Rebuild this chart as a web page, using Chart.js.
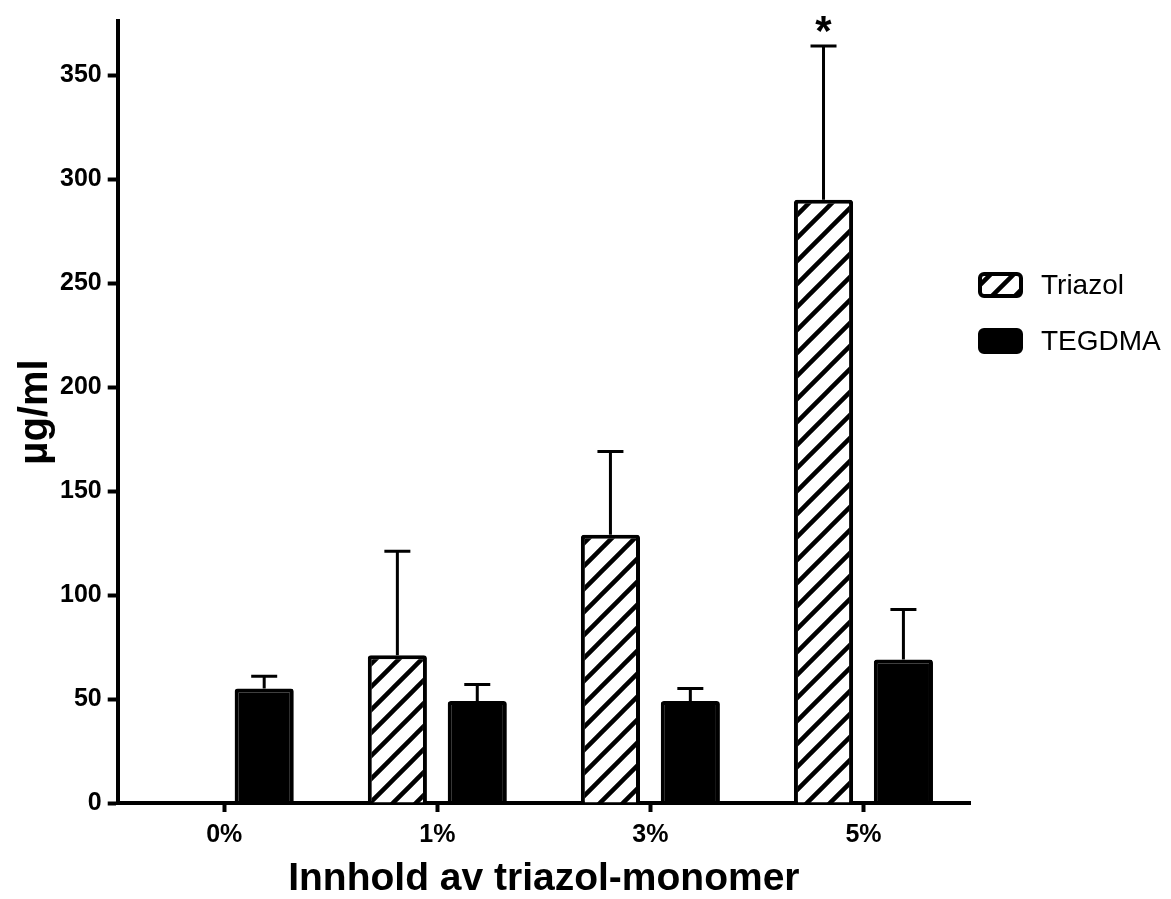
<!DOCTYPE html>
<html>
<head>
<meta charset="utf-8">
<script src="https://cdn.jsdelivr.net/npm/chart.js@4"></script>
<style>
  html, body { margin: 0; padding: 0; background: #fff; }
</style>
</head>
<body>
<canvas id="barChart" width="1171" height="899"></canvas>
<script>
// Release of monomer (µg/ml) by triazol content

const categories = ['0%', '1%', '3%', '5%'];
const triazol = [null, 71, 129, 290];
const triazolErr = [null, 50, 40, 74];
const tegdma = [55, 49, 49, 69];
const tegdmaErr = [6, 8, 6, 24];
const yTicks = [0, 50, 100, 150, 200, 250, 300, 350];
const seriesNames = ['Triazol', 'TEGDMA'];

function hatch() {
    const size = 23;
    const c = document.createElement('canvas');
    c.width = size; c.height = size;
    const g = c.getContext('2d');
    g.fillStyle = '#fff';
    g.fillRect(0, 0, size, size);
    g.strokeStyle = '#000';
    g.lineWidth = 4.5;
    g.beginPath();
    g.moveTo(-size, 2 * size); g.lineTo(2 * size, -size);
    g.moveTo(-size, size); g.lineTo(size, -size);
    g.moveTo(0, 2 * size); g.lineTo(2 * size, 0);
    g.stroke();
    return g.createPattern(c, 'repeat');
}
const stripes = hatch();

// error bars (upper only) + asterisk
const errorBars = {
    id: 'errorBars',
    afterDatasetsDraw(chart) {
        const ctx = chart.ctx;
        const y = chart.scales.y;
        const errs = [triazolErr, tegdmaErr];
        const vals = [triazol, tegdma];
        ctx.save();
        ctx.strokeStyle = '#000';
        ctx.lineWidth = 3;
        chart.data.datasets.forEach((ds, i) => {
            chart.getDatasetMeta(i).data.forEach((bar, j) => {
                if (vals[i][j] == null) return;
                const top = y.getPixelForValue(vals[i][j]);
                const end = y.getPixelForValue(vals[i][j] + errs[i][j]);
                ctx.beginPath();
                ctx.moveTo(bar.x, top);
                ctx.lineTo(bar.x, end);
                ctx.moveTo(bar.x - 13, end);
                ctx.lineTo(bar.x + 13, end);
                ctx.stroke();
                if (i === 0 && j === 3) {
                    ctx.fillStyle = '#000';
                    ctx.font = 'bold 42px "Liberation Sans", Arial, sans-serif';
                    ctx.textAlign = 'center';
                    ctx.textBaseline = 'bottom';
                    ctx.fillText('*', bar.x, end + 8);
                }
            });
        });
        ctx.restore();
    }
};

// legend at the right
const sideLegend = {
    id: 'sideLegend',
    afterDraw(chart) {
        const ctx = chart.ctx;
        ctx.save();
        chart.data.datasets.forEach((ds, i) => {
            const yc = 285 + i * 56;
            ctx.beginPath();
            ctx.roundRect(980, yc - 11, 41, 22, 4);
            ctx.fillStyle = ds.backgroundColor;
            ctx.fill();
            ctx.lineWidth = 4;
            ctx.strokeStyle = '#000';
            ctx.stroke();
            ctx.fillStyle = '#000';
            ctx.font = '28px "Liberation Sans", Arial, sans-serif';
            ctx.textBaseline = 'middle';
            ctx.textAlign = 'left';
            ctx.fillText(ds.label, 1041, yc + 1);
        });
        ctx.restore();
    }
};

new Chart(document.getElementById('barChart'), {
    type: 'bar',
    data: {
        labels: categories,
        datasets: [{
            label: seriesNames[0],
            data: triazol,
            backgroundColor: stripes,
            borderColor: '#000',
            borderWidth: 4,
            borderRadius: 3,
            borderSkipped: 'bottom'
        }, {
            label: seriesNames[1],
            data: tegdma,
            backgroundColor: '#000',
            borderColor: '#000',
            borderWidth: 4,
            borderRadius: 3,
            borderSkipped: 'bottom'
        }]
    },
    options: {
        responsive: false,
        animation: false,
        categoryPercentage: 0.75,
        barPercentage: 0.74,
        layout: { padding: { top: 17, right: 201, left: 18, bottom: 0 } },
        plugins: {
            legend: { display: false },
            tooltip: { enabled: false }
        },
        scales: {
            x: {
                grid: { display: true, drawOnChartArea: false, offset: false, tickLength: 9, tickWidth: 4, tickColor: '#000' },
                border: { display: true, color: '#000', width: 4 },
                ticks: {
                    color: '#000',
                    padding: 8,
                    font: { family: '"Liberation Sans", Arial, sans-serif', size: 25, weight: 'bold' }
                },
                title: {
                    display: true,
                    text: 'Innhold av triazol-monomer',
                    color: '#000',
                    padding: { top: 2, bottom: 0 },
                    font: { family: '"Liberation Sans", Arial, sans-serif', size: 39, weight: 'bold', lineHeight: 1 }
                }
            },
            y: {
                min: 0,
                max: 376,
                afterBuildTicks(axis) {
                    axis.ticks = yTicks.map(v => ({ value: v }));
                },
                grid: { display: true, drawOnChartArea: false, tickLength: 10, tickWidth: 4, tickColor: '#000' },
                border: { display: true, color: '#000', width: 4 },
                ticks: {
                    color: '#000',
                    padding: 6,
                    font: { family: '"Liberation Sans", Arial, sans-serif', size: 25, weight: 'bold' }
                },
                title: {
                    display: true,
                    text: 'µg/ml',
                    color: '#000',
                    padding: { top: 0, bottom: 0 },
                    font: { family: '"Liberation Sans", Arial, sans-serif', size: 40, weight: 'bold', lineHeight: 0.9 }
                }
            }
        }
    },
    plugins: [errorBars, sideLegend]
});
</script>
</body>
</html>
